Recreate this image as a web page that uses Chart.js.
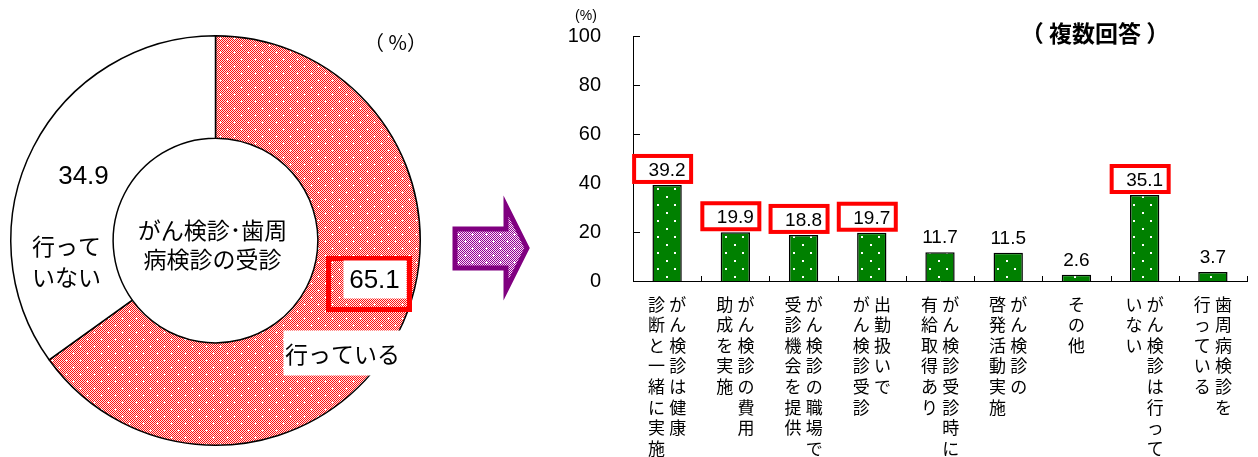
<!DOCTYPE html>
<html>
<head>
<meta charset="utf-8">
<script src="https://cdn.jsdelivr.net/npm/chart.js@4.4.0/dist/chart.umd.min.js"></script>
<style>
  html, body { margin: 0; padding: 0; background: #fff; }
  #wrap { position: relative; width: 1258px; height: 457px; overflow: hidden; }
  #pieChart { position: absolute; left: 0; top: 0; }
  #barChart { position: absolute; left: 560px; top: 0; }
</style>
</head>
<body>
<div id="wrap">
  <canvas id="pieChart" width="560" height="457"></canvas>
  <canvas id="barChart" width="698" height="457"></canvas>
</div>
<script>
// がん検診・歯周病検診の受診
const pieLabels = [['行っている'], ['行って', 'いない']];
const pieValues = [65.1, 34.9];
const pieTitle = ['がん検診･歯周', '病検診の受診'];

// 取り組みの内容（複数回答）: 縦書き、列は右から読む順
const barCategories = [
  ['がん検診は健康', '診断と一緒に実施'],
  ['がん検診の費用', '助成を実施'],
  ['がん検診の職場で', '受診機会を提供'],
  ['出勤扱いで', 'がん検診受診'],
  ['がん検診受診時に', '有給取得あり'],
  ['がん検診の', '啓発活動実施'],
  ['その他'],
  ['がん検診は行って', 'いない'],
  ['歯周病検診を', '行っている']
];
const barValues = [39.2, 19.9, 18.8, 19.7, 11.7, 11.5, 2.6, 35.1, 3.7];
const boxedBars = [0, 1, 2, 3, 7];
const yTicks = [0, 20, 40, 60, 80, 100];

const JP = '"Noto Sans CJK JP", sans-serif';
const NUM = '"Liberation Sans", Arial, sans-serif';

// 縦書きラベルを一行ずつの配列にする（右の列を右側に置く）
function verticalLines(cols) {
  const chars = cols.map(c => [...c]);
  const rows = Math.max(...chars.map(c => c.length));
  const lines = [];
  for (let r = 0; r < rows; r++) {
    lines.push(chars.slice().reverse().map(c => c[r] || '\u3000').join('\u2005'));
  }
  return lines;
}

// 網掛けパターン（細かい市松＋白い点）
function makePattern(w, h, base, light, dots, plus) {
  const c = document.createElement('canvas');
  c.width = w; c.height = h;
  const g = c.getContext('2d');
  for (let y = 0; y < h; y++) {
    for (let x = 0; x < w; x++) {
      g.fillStyle = (light && (x + y) % 2) ? light : base;
      g.fillRect(x, y, 1, 1);
    }
  }
  g.fillStyle = '#ffffff';
  dots.forEach(([x, y]) => {
    if (plus) {
      g.fillRect(x - 1, y, 3, 1);
      g.fillRect(x, y - 1, 1, 3);
    } else {
      g.fillRect(x, y, 2, 2);
    }
  });
  return g.createPattern(c, 'repeat');
}

const redPattern = makePattern(14, 14, '#ff1010', '#ffe8e8', [[3, 3], [10, 10]], true);
const greenPattern = makePattern(17, 16, '#008000', null, [[4, 4], [12, 12]], false);
const purplePattern = makePattern(14, 14, '#900090', '#f8e0f8', [[3, 3], [10, 10]], true);

const pieDecor = {
  id: 'pieDecor',
  afterDraw(chart) {
    const ctx = chart.ctx;
    const arc = chart.getDatasetMeta(0).data[0];
    const cx = arc.x, cy = arc.y;
    ctx.save();
    ctx.fillStyle = '#000';
    ctx.textAlign = 'center';

    // 中央の見出し
    ctx.font = '23px ' + JP;
    ctx.textBaseline = 'middle';
    ctx.fillText(pieTitle[0], cx - 3, cy - 10);
    ctx.fillText(pieTitle[1], cx - 3, cy + 19);

    // 行っていない
    ctx.font = '26px ' + NUM;
    ctx.textBaseline = 'alphabetic';
    ctx.fillText(pieValues[1].toFixed(1), cx - 132, cy - 57);
    ctx.font = '23px ' + JP;
    ctx.textBaseline = 'middle';
    pieLabels[1].forEach((t, i) => ctx.fillText(t, cx - 149, cy + 6 + i * 31));

    // 行っている（強調枠）
    ctx.strokeStyle = '#ff0000';
    ctx.lineWidth = 5;
    ctx.strokeRect(cx + 113, cy + 18, 81, 51);
    ctx.fillStyle = '#ffffff';
    ctx.fillRect(cx + 128, cy + 20, 63, 38);
    ctx.fillRect(cx + 68, cy + 90, 119, 45);
    ctx.fillStyle = '#000';
    ctx.font = '26px ' + NUM;
    ctx.textBaseline = 'alphabetic';
    ctx.fillText(pieValues[0].toFixed(1), cx + 159, cy + 47);
    ctx.font = '23px ' + JP;
    ctx.textBaseline = 'middle';
    ctx.fillText(pieLabels[0][0], cx + 127, cy + 114);

    ctx.font = '20px ' + JP;
    ctx.fillText('（ %）', cx + 180, cy - 198);

    // 右向きの矢印
    ctx.beginPath();
    ctx.moveTo(455, 229);
    ctx.lineTo(506, 229);
    ctx.lineTo(506, 206);
    ctx.lineTo(527, 248);
    ctx.lineTo(506, 290);
    ctx.lineTo(506, 268);
    ctx.lineTo(455, 268);
    ctx.closePath();
    ctx.fillStyle = purplePattern;
    ctx.fill();
    ctx.strokeStyle = '#800080';
    ctx.lineWidth = 5;
    ctx.lineJoin = 'miter';
    ctx.stroke();
    ctx.restore();
  }
};

new Chart(document.getElementById('pieChart'), {
  type: 'doughnut',
  data: {
    labels: pieLabels.map(l => l.join('')),
    datasets: [{
      data: pieValues,
      backgroundColor: [redPattern, '#ffffff'],
      borderColor: '#000000',
      borderWidth: 1.5
    }]
  },
  options: {
    responsive: false,
    animation: false,
    events: [],
    cutout: '50%',
    layout: { padding: { left: 10, top: 35, right: 139, bottom: 11 } },
    plugins: { legend: { display: false }, tooltip: { enabled: false } }
  },
  plugins: [pieDecor]
});

const barDecor = {
  id: 'barDecor',
  afterDraw(chart) {
    const ctx = chart.ctx;
    const xs = chart.scales.x, ys = chart.scales.y;
    const { left, bottom } = chart.chartArea;
    ctx.save();

    // 内向きの目盛り
    ctx.strokeStyle = '#000';
    ctx.lineWidth = 1;
    ctx.beginPath();
    yTicks.forEach(v => {
      const y = Math.round(ys.getPixelForValue(v)) + 0.5;
      ctx.moveTo(left, y);
      ctx.lineTo(left + 7, y);
    });
    const step = xs.getPixelForValue(1) - xs.getPixelForValue(0);
    barValues.forEach((v, i) => {
      const x = Math.round(xs.getPixelForValue(i) + step / 2) + 0.5;
      ctx.moveTo(x, bottom);
      ctx.lineTo(x, bottom - 5);
    });
    ctx.stroke();

    // 値ラベル
    const meta = chart.getDatasetMeta(0);
    ctx.font = '19px ' + NUM;
    ctx.textAlign = 'center';
    ctx.textBaseline = 'alphabetic';
    meta.data.forEach((bar, i) => {
      if (boxedBars.includes(i)) {
        const bx = bar.x - 35, by = bar.y - 31;
        ctx.fillStyle = '#ffffff';
        ctx.fillRect(bx, by, 61, 30);
        ctx.strokeStyle = '#ff0000';
        ctx.lineWidth = 4;
        ctx.strokeRect(bx + 2, by + 2, 57, 26);
      }
      ctx.fillStyle = '#000';
      ctx.fillText(barValues[i].toFixed(1), bar.x, bar.y - 9);
    });

    ctx.font = '14px ' + NUM;
    ctx.fillText('(%)', 26, 20);
    ctx.font = 'bold 23px ' + JP;
    ctx.textBaseline = 'middle';
    ctx.fillText('（ 複数回答 ）', 535, 33);
    ctx.restore();
  }
};

new Chart(document.getElementById('barChart'), {
  type: 'bar',
  data: {
    labels: barCategories.map(verticalLines),
    datasets: [{
      data: barValues,
      backgroundColor: greenPattern,
      borderColor: '#000000',
      borderWidth: 1.5,
      barPercentage: 0.43,
      categoryPercentage: 1
    }]
  },
  options: {
    responsive: false,
    animation: false,
    events: [],
    layout: { padding: { top: 33, right: 11, left: 0, bottom: 0 } },
    plugins: { legend: { display: false }, tooltip: { enabled: false } },
    scales: {
      x: {
        grid: { display: false },
        border: { display: true, color: '#000', width: 1 },
        ticks: {
          color: '#000',
          font: { family: JP, size: 17, lineHeight: 1.21 },
          padding: 5,
          maxRotation: 0,
          autoSkip: false
        },
        afterFit(scale) { scale.height = 176; }
      },
      y: {
        min: 0,
        max: 100,
        grid: { display: false },
        border: { display: true, color: '#000', width: 1 },
        ticks: {
          stepSize: 20,
          color: '#000',
          font: { family: NUM, size: 20 },
          padding: 24
        },
        afterFit(scale) { scale.width = 73; }
      }
    }
  },
  plugins: [barDecor]
});
</script>
</body>
</html>
